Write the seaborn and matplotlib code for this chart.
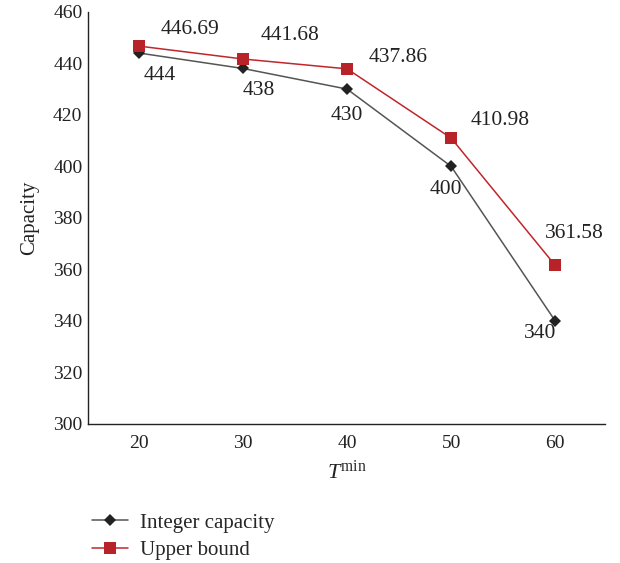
import matplotlib
matplotlib.use("Agg")
import matplotlib.pyplot as plt
import seaborn as sns
import pandas as pd

t_min = [20, 30, 40, 50, 60]
integer_capacity = [444, 438, 430, 400, 340]
upper_bound = [446.69, 441.68, 437.86, 410.98, 361.58]
series_names = ["Integer capacity", "Upper bound"]
y_ticks = [300, 320, 340, 360, 380, 400, 420, 440, 460]

sns.set_theme(style="white")
plt.rcParams["font.family"] = ["Liberation Serif", "DejaVu Serif"]
plt.rcParams["mathtext.fontset"] = "custom"
plt.rcParams["mathtext.rm"] = "Liberation Serif"
plt.rcParams["mathtext.it"] = "Liberation Serif:italic"

df = pd.DataFrame({
    "T": t_min * 2,
    "Capacity": integer_capacity + upper_bound,
    "series": [series_names[0]] * 5 + [series_names[1]] * 5,
})

fig = plt.figure(figsize=(6.2, 5.63), dpi=100)
ax = fig.add_axes([0.142, 0.247, 0.834, 0.732])

palette = {series_names[0]: "#555555", series_names[1]: "#C0262C"}
markers = {series_names[0]: "D", series_names[1]: "s"}
sns.lineplot(data=df, x="T", y="Capacity", hue="series", style="series",
             palette=palette, markers=markers, dashes=False, sort=False,
             ax=ax, legend=False, linewidth=1.1, markersize=7,
             markeredgewidth=0)
for line in ax.get_lines():
    if line.get_marker() == "D":
        line.set_markerfacecolor("#222222")
        line.set_markersize(6.5)
    if line.get_marker() == "s":
        line.set_markersize(9)
        line.set_markerfacecolor("#B8232A")

ax.set_xlim(15.1, 64.8)
ax.set_ylim(300, 460)
ax.set_xticks(t_min)
ax.set_xticklabels([str(v) for v in t_min], fontsize=14)
ax.set_yticks(y_ticks)
ax.set_yticklabels([str(v) for v in y_ticks], fontsize=14)
ax.tick_params(axis="y", length=0, pad=4, colors="#222222")
ax.tick_params(axis="x", length=0, pad=8, colors="#222222")
for s in ["top", "right"]:
    ax.spines[s].set_visible(False)
for s in ["left", "bottom"]:
    ax.spines[s].set_color("#222222")
    ax.spines[s].set_linewidth(1.0)

ax.set_ylabel("Capacity", fontsize=15, color="#222222", labelpad=10)
ax.set_xlabel(r"$\mathit{T}^{\mathrm{min}}$", fontsize=16, color="#222222", labelpad=6)

up_offsets = [(37, 12), (34, 17), (37, 8), (35, 13), (14, 23)]
low_offsets = [(15, -16), (11, -16), (0, -19), (-4, -17), (-11, -9)]
for x, y, off in zip(t_min, upper_bound, up_offsets):
    ax.annotate(f"{y:.2f}", (x, y), xytext=off, textcoords="offset points",
                ha="center", va="center", fontsize=15.5, color="#222222")
for x, y, off in zip(t_min, integer_capacity, low_offsets):
    ax.annotate(f"{y}", (x, y), xytext=off, textcoords="offset points",
                ha="center", va="center", fontsize=15.5, color="#222222")

handles = [
    plt.Line2D([], [], color="#555555", lw=1.1, marker="D", markersize=6.5,
               markerfacecolor="#222222", markeredgewidth=0),
    plt.Line2D([], [], color="#C0262C", lw=1.1, marker="s", markersize=9,
               markerfacecolor="#B8232A", markeredgewidth=0),
]
fig.legend(handles, series_names, loc="upper left",
           bbox_to_anchor=(92 / 620, 1 - 513 / 563),
           frameon=False, fontsize=15, handlelength=1.75, labelspacing=0.38,
           handletextpad=0.55, borderpad=0, borderaxespad=0)

fig.savefig("out.png", dpi=100)
